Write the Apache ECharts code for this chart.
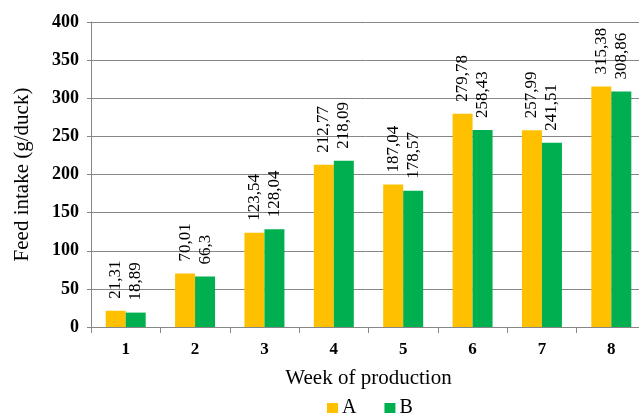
<!DOCTYPE html>
<html><head><meta charset="utf-8">
<script src="https://cdn.jsdelivr.net/npm/echarts@6/dist/echarts.min.js"></script>
<style>html,body{margin:0;padding:0;background:#fff}#c{width:639px;height:416px}</style>
</head><body><div id="c"></div>
<script>
const categories = ['1','2','3','4','5','6','7','8'];
const seriesA = [21.31, 70.01, 123.54, 212.77, 187.04, 279.78, 257.99, 315.38];
const seriesB = [18.89, 66.3, 128.04, 218.09, 178.57, 258.43, 241.51, 308.86];
const yTicks = {min: 0, max: 400, interval: 50};
const serif = '"Liberation Serif","Times New Roman",serif';
const chart = echarts.init(document.getElementById('c'), null, {renderer:'canvas'});
const lab = {
  show: true, position: 'top', rotate: 90, align: 'left', verticalAlign: 'middle',
  distance: 12, fontFamily: serif, fontSize: 17, color: '#000',
  formatter: p => String(p.value).replace('.', ',')
};
chart.setOption({
  animation: false,
  grid: {left: 91, width: 555, top: 22, height: 305, containLabel: false, outerBoundsMode: 'none'},
  legend: {
    top: 393, left: 322, itemWidth: 11, itemHeight: 10, itemGap: 28,
    textStyle: {fontFamily: serif, fontSize: 20, color: '#000', padding: [0,0,0,-1]},
    data: ['A','B'], icon: 'rect'
  },
  xAxis: {
    type: 'category', data: categories,
    name: 'Week of production', nameLocation: 'middle', nameGap: 41,
    nameTextStyle: {fontFamily: serif, fontSize: 21, color: '#000'},
    axisLine: {lineStyle: {color: '#868686', width: 1}},
    axisTick: {show: true, length: 6, lineStyle: {color: '#868686'}},
    axisLabel: {fontFamily: serif, fontSize: 17, fontWeight: 'bold', color: '#000', margin: 14}
  },
  yAxis: {
    type: 'value', min: yTicks.min, max: yTicks.max, interval: yTicks.interval,
    name: 'Feed intake (g/duck)', nameLocation: 'middle', nameGap: 58,
    nameTextStyle: {fontFamily: serif, fontSize: 21, color: '#000'},
    axisLine: {show: true, lineStyle: {color: '#868686', width: 1}},
    axisTick: {show: true, length: 4, lineStyle: {color: '#868686'}},
    axisLabel: {fontFamily: serif, fontSize: 18, fontWeight: 'bold', color: '#000', margin: 12},
    splitLine: {show: true, lineStyle: {color: '#868686', width: 1}}
  },
  series: [
    {name: 'A', type: 'bar', data: seriesA, barWidth: 20, barGap: '0%', itemStyle: {color: '#FFC000'}, label: lab},
    {name: 'B', type: 'bar', data: seriesB, barWidth: 20, barGap: '0%', itemStyle: {color: '#00B050'}, label: lab}
  ]
});
</script></body></html>
